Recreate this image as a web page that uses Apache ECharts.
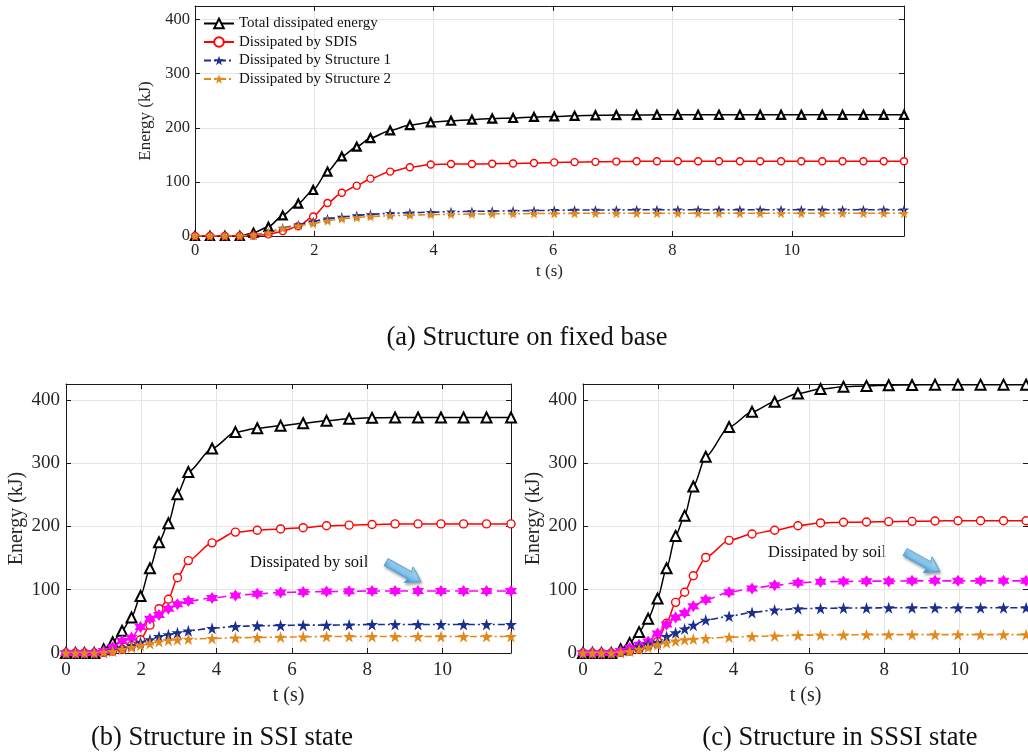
<!DOCTYPE html>
<html><head><meta charset="utf-8">
<script src="https://cdn.jsdelivr.net/npm/echarts@6/dist/echarts.min.js"></script>
<style>html,body{margin:0;padding:0;background:#fff}#c{width:1028px;height:755px}</style>
</head><body><div id="c"></div>
<script>
// ---------- data ----------
const tA = [0,0.25,0.5,0.75,0.98,1.23,1.47,1.73,1.98,2.22,2.46,2.71,2.94,3.27,3.6,3.95,4.29,4.64,4.98,5.33,5.68,6.02,6.36,6.71,7.06,7.4,7.74,8.09,8.43,8.78,9.13,9.47,9.82,10.16,10.51,10.85,11.2,11.54,11.88];
const totalA = [0,0,0,0,6,17,38,60,85,119,147,165,181,195,205,210,213,215,217,218,220,221,222,223,223.5,223.5,224,224,224,224,224,224,224,224,224,224,224,224,224];
const sdisA  = [0,0,0,0,1,3,9,18,36,61,80,93,106,119,127,132,133,133,133.5,134,135,136,136.5,137,137.5,138,138,138,138,138,138,138,138,138,138,138,138,138,138];
const s1A    = [0,0,0,0,2,6,15,21,27,32,35,38,40,42,43,44,45,45.5,46,46.5,47,47.5,48,48,48,48.5,48.5,48.5,48.5,48.5,48.5,48.5,48.5,48.5,48.5,48.5,48.5,48.5,48.5];
const s2A    = [0,0,0,0,2,6,14,19,23,28,32,34,36,37.5,38.5,39.5,40,40.5,41,41,41.5,41.5,42,42,42,42,42,42,42,42,42,42,42,42,42,42,42,42,42];

const tB = [0,0.25,0.49,0.75,1.0,1.24,1.49,1.74,1.98,2.23,2.47,2.72,2.96,3.25,3.88,4.5,5.08,5.7,6.3,6.92,7.52,8.13,8.74,9.35,9.96,10.56,11.17,11.82];
const totalB = [0,0,0,0,6,17,35,56,90,134,175,205,251,286,323,349,355,359,363,367,370,371.5,372,372,372,372,372,372];
const sdisB  = [0,0,0,0,1,3,6,12,21,44,70,85,119,146,174,191,194,196,198,201,202,203,204,204,204,204,204,204];
const soilB  = [0,0,0,0,3,9,19,24,41,54,60,70,77,82,87,91,93.5,95.5,96.5,97,97.5,98,98,98,98,98,98,98];
const s1B    = [0,0,0,0,1,4,8,12,17,21,26,29,32,35,39,42,43,43.5,44,44,44.5,45,45,45,45,45,45,45];
const s2B    = [0,0,0,0,1,3,6,9,12,15,18,20,21,22,23,24,24.5,25,25.5,26,26,26,26,26,26,26,26,26];

const tC = [0,0.25,0.49,0.75,1.0,1.24,1.49,1.73,1.98,2.22,2.46,2.7,2.93,3.26,3.88,4.49,5.09,5.71,6.31,6.92,7.53,8.12,8.74,9.35,9.96,10.56,11.17,11.77];
const totalC = [0,0,0,0,6,16,33,54,86,134,185,217,263,310,357,381,397,410,417,420.5,422,423,423.5,424,424,424,424,424];
const sdisC  = [0,0,0,0,1,3,6,12,18,47,80,96,122,151,178,188,194,201,205.5,206.5,207,207.5,208,208.5,209,209,209,209];
const soilC  = [0,0,0,0,3,8,13,18,31,45,56,63,74,84,96,102,107,111,112.5,113,113.5,113.5,114,114,114,114,114,114];
const s1C    = [0,0,0,0,1,4,10,14,17,26,32,38,44,52,58,64,68,70,70.5,71,71,71.5,71.5,71.5,71.5,71.5,71.5,71.5];
const s2C    = [0,0,0,0,1,3,6,9,13,16,19,21,22,23,25,26,27,28,28.5,28.5,29,29,29,29,29,29,29,29];

const seriesNames = ['Total dissipated energy','Dissipated by SDIS','Dissipated by Structure 1','Dissipated by Structure 2'];
const soilName = 'Dissipated by soil';
const captions = ['(a) Structure on fixed base','(b) Structure in SSI state','(c) Structure in SSSI state'];
const xMaxes = [11.88, 11.82, 11.82];
const yMax = 425, yStep = 100, xStep = 2;

// ---------- styling ----------
const FONT = '"Liberation Serif","Times New Roman",serif';
const STAR = 'path://M50,0 L61.2,34.5 L97.6,34.5 L68.2,55.9 L79.4,90.5 L50,69.1 L20.6,90.5 L31.8,55.9 L2.4,34.5 L38.8,34.5 Z';
const HEX = 'path://M50,0 L64.43,25 L93.3,25 L78.87,50 L93.3,75 L64.43,75 L50,100 L35.57,75 L6.7,75 L21.13,50 L6.7,25 L35.57,25 Z';
const COL = {total:'#000000', sdis:'#ff0000', s1:'#1b2f8e', s2:'#e3891b', soil:'#ff00ff'};

const grids = [
  {left:195, top:6, width:709, height:230},
  {left:66, top:384, width:445, height:269},
  {left:583, top:384, width:447, height:269}
];
const fs = [{tick:16.5, name:17, lgap:5, bgap:6, ngX:27, ngY:33}, {tick:19, name:20, lgap:6, bgap:8, ngX:33, ngY:39}, {tick:19, name:20, lgap:6, bgap:8, ngX:33, ngY:39}];

const xAxis = [], yAxis = [];
grids.forEach((g, i) => {
  const f = fs[i];
  const line = {show:true, onZero:false, lineStyle:{color:'#1a1a1a', width:1}};
  const tick = {show:true, inside:true, length:5, lineStyle:{color:'#1a1a1a', width:1}};
  xAxis.push({type:'value', gridIndex:i, position:'bottom', min:0, max:xMaxes[i], interval:xStep,
    axisLine:line, axisTick:tick,
    axisLabel:{showMaxLabel:false, margin:f.bgap, fontSize:f.tick, fontFamily:FONT, color:'#262626'},
    splitLine:{show:true, lineStyle:{color:'#e4e4e4', width:1}},
    name:'t (s)', nameLocation:'middle', nameGap:f.ngX, nameTextStyle:{fontSize:f.name, fontFamily:FONT, color:'#262626'}});
  xAxis.push({type:'value', gridIndex:i, position:'top', min:0, max:xMaxes[i], interval:xStep,
    axisLine:line, axisTick:tick, axisLabel:{show:false}, splitLine:{show:false}});
  yAxis.push({type:'value', gridIndex:i, position:'left', min:0, max:yMax, interval:yStep,
    axisLine:line, axisTick:tick,
    axisLabel:{showMaxLabel:false, margin:f.lgap, fontSize:f.tick, fontFamily:FONT, color:'#262626'},
    splitLine:{show:true, lineStyle:{color:'#e4e4e4', width:1}},
    name:'Energy (kJ)', nameLocation:'middle', nameGap:f.ngY, nameRotate:90, nameTextStyle:{fontSize:f.name, fontFamily:FONT, color:'#262626'}});
  yAxis.push({type:'value', gridIndex:i, position:'right', min:0, max:yMax, interval:yStep,
    axisLine:line, axisTick:tick, axisLabel:{show:false}, splitLine:{show:false}});
});

function pairs(t, v) { return t.map((x, k) => [x, v[k]]); }
const big = [false, true, true];
function mk(gi, name, t, v, kind) {
  const b = big[gi];
  const s = {type:'line', name, xAxisIndex:gi*2, yAxisIndex:gi*2, data:pairs(t, v),
    showAllSymbol:true, smooth:0.25, smoothMonotone:'x', animation:false};
  if (kind === 'total') Object.assign(s, {symbol:'triangle', symbolSize:b?10:8,
    lineStyle:{color:COL.total, width:1.5}, itemStyle:{color:'#ffffff', borderColor:COL.total, borderWidth:b?2:2.2}});
  if (kind === 'sdis') Object.assign(s, {symbol:'circle', symbolSize:b?8:7,
    lineStyle:{color:COL.sdis, width:1.5}, itemStyle:{color:'#ffffff', borderColor:COL.sdis, borderWidth:1.4}});
  if (kind === 's1') Object.assign(s, {symbol:STAR, symbolSize:b?12:10,
    lineStyle:{color:COL.s1, width:1.6, type:[7,3,2,3]}, itemStyle:{color:COL.s1}});
  if (kind === 's2') Object.assign(s, {symbol:STAR, symbolSize:b?12:10,
    lineStyle:{color:COL.s2, width:1.6, type:[7,3,2,3]}, itemStyle:{color:COL.s2}});
  if (kind === 'soil') Object.assign(s, {symbol:HEX, symbolSize:b?12:10,
    lineStyle:{color:COL.soil, width:1.6, type:[9,5]}, itemStyle:{color:COL.soil}});
  return s;
}
const series = [
  mk(0, seriesNames[0], tA, totalA, 'total'),
  mk(0, seriesNames[1], tA, sdisA, 'sdis'),
  mk(0, seriesNames[2], tA, s1A, 's1'),
  mk(0, seriesNames[3], tA, s2A, 's2'),
  mk(1, seriesNames[0], tB, totalB, 'total'),
  mk(1, seriesNames[1], tB, sdisB, 'sdis'),
  mk(1, soilName, tB, soilB, 'soil'),
  mk(1, seriesNames[2], tB, s1B, 's1'),
  mk(1, seriesNames[3], tB, s2B, 's2'),
  mk(2, seriesNames[0], tC, totalC, 'total'),
  mk(2, seriesNames[1], tC, sdisC, 'sdis'),
  mk(2, soilName, tC, soilC, 'soil'),
  mk(2, seriesNames[2], tC, s1C, 's1'),
  mk(2, seriesNames[3], tC, s2C, 's2')
];

function txt(text, x, y, size, align) {
  return {type:'text', silent:true, style:{text, x, y, fontSize:size, fontFamily:FONT, fill:'#111',
    align:align, verticalAlign:'middle', textAlign:align, textVerticalAlign:'middle'}};
}
function arrow(x, y) {
  return {type:'polygon', x, y, rotation:-0.51, silent:true,
    shape:{points:[[0,-4],[27,-4],[26,-9],[40,0],[26,9],[27,4],[0,4]]},
    style:{fill:{type:'linear', x:0, y:0, x2:0, y2:1, colorStops:[{offset:0,color:'#d9f1fd'},{offset:0.5,color:'#86c9f0'},{offset:1,color:'#3f8fcf'}]},
      stroke:'#4c9bd6', lineWidth:0.8, shadowBlur:3, shadowColor:'rgba(0,0,0,0.35)', shadowOffsetX:1, shadowOffsetY:2}};
}

const option = {
  backgroundColor:'#ffffff',
  animation:false,
  grid: grids.map(g => Object.assign({containLabel:false}, g)),
  xAxis, yAxis, series,
  legend:{data:seriesNames, orient:'vertical', left:203, top:16, itemWidth:30, itemHeight:12, itemGap:3.5,
    textStyle:{fontSize:15, fontFamily:FONT, color:'#111'}, padding:0},
  graphic:[
    txt(captions[0], 527, 338, 26.5, 'center'),
    txt(captions[1], 222, 738, 26.5, 'center'),
    txt(captions[2], 840, 738, 26.5, 'center'),
    txt(soilName, 250, 563, 16.5, 'left'),
    txt(soilName, 768, 553, 16.5, 'left'),
    arrow(386, 562),
    arrow(905, 552)
  ]
};
const chart = echarts.init(document.getElementById('c'), null, {renderer:'canvas'});
chart.setOption(option);
</script></body></html>
